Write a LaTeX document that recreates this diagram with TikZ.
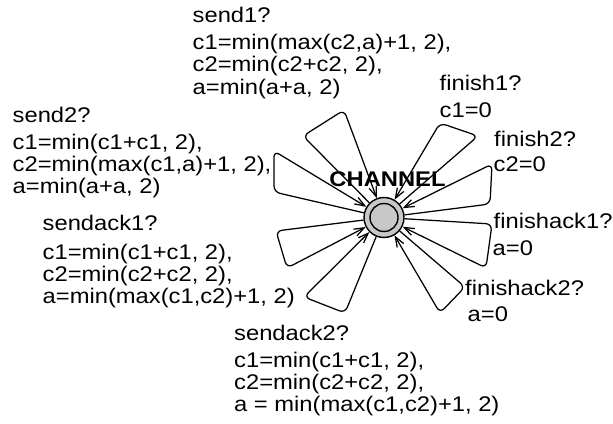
\documentclass[tikz,border=0pt]{standalone}
\usepackage{fontspec}
\setmainfont{Liberation Sans}[FakeStretch=1.12]
\usetikzlibrary{arrows.meta}
\definecolor{stategray}{RGB}{200,200,200}
\newcommand\txtlines[1]{\begin{tabular}[t]{@{}l@{}}#1\end{tabular}}

\begin{document}
\begin{tikzpicture}[x=1pt,y=-1pt,
  lbl/.style={anchor=base west, inner sep=0pt, font=\fontsize{21.2}{22.3}\selectfont},
  loopedge/.style={draw, line width=1.25pt, rounded corners=6pt,
    -{Straight Barb[length=10pt,width=7.5pt]}},
  ring/.style={circle, draw, line width=1.4pt, inner sep=0pt},
]
\useasboundingbox (0,0) rectangle (613,423);

% location name
\node[anchor=base, inner sep=0pt, font=\fontsize{21.2}{22}\selectfont\bfseries]
  (chname) at (387.5,186.7) {CHANNEL};

% initial location (double circle)
\node[ring, fill=stategray, minimum size=40pt] (st) at (384,217.5) {};
\node[ring, minimum size=28pt] (stin) at (st.center) {};

% nails of the self loops: o = outgoing side, i = incoming side
\coordinate (s1o) at (303,136);  \coordinate (s1i) at (344,110);
\coordinate (f1o) at (478,136);  \coordinate (f1i) at (440,123);
\coordinate (f2o) at (490,204);  \coordinate (f2i) at (492,164);
\coordinate (fa1o) at (492,224); \coordinate (fa1i) at (486,268);
\coordinate (fa2o) at (465,287); \coordinate (fa2i) at (440,313);
\coordinate (sa2o) at (345,313); \coordinate (sa2i) at (304,297);
\coordinate (sa1o) at (276,231); \coordinate (sa1i) at (287,268);
\coordinate (s2o) at (274,192);  \coordinate (s2i) at (274,151);

% self loops
\path[loopedge] (st) -- (s1o) -- (s1i) -- (st);
\path[loopedge] (st) -- (f1o) -- (f1i) -- (st);
\path[loopedge] (st) -- (f2o) -- (f2i) -- (st);
\path[loopedge] (st) -- (fa1o) -- (fa1i) -- (st);
\path[loopedge] (st) -- (fa2o) -- (fa2i) -- (st);
\path[loopedge] (st) -- (sa2o) -- (sa2i) -- (st);
\path[loopedge] (st) -- (sa1o) -- (sa1i) -- (st);
\path[loopedge] (st) -- (s2o) -- (s2i) -- (st);

% synchronisations and updates
\node[lbl] (s1sync) at (192.5,22) {send1?};
\node[lbl] (s1upd) at (192.5,49.5) {\txtlines{c1=min(max(c2,a)+1, 2),\\c2=min(c2+c2, 2),\\a=min(a+a, 2)}};

\node[lbl] (s2sync) at (12.5,122) {send2?};
\node[lbl] (s2upd) at (12.5,149.3) {\txtlines{c1=min(c1+c1, 2),\\c2=min(max(c1,a)+1, 2),\\a=min(a+a, 2)}};

\node[lbl] (sa1sync) at (42.5,230) {sendack1?};
\node[lbl] (sa1upd) at (42.5,259) {\txtlines{c1=min(c1+c1, 2),\\c2=min(c2+c2, 2),\\a=min(max(c1,c2)+1, 2)}};

\node[lbl] (sa2sync) at (234,340.5) {sendack2?};
\node[lbl] (sa2upd) at (234,367) {\txtlines{c1=min(c1+c1, 2),\\c2=min(c2+c2, 2),\\a = min(max(c1,c2)+1, 2)}};

\node[lbl] (f1sync) at (439.5,90.7) {finish1?};
\node[lbl] (f1upd) at (439.5,117.7) {c1=0};

\node[lbl] (f2sync) at (494,146) {finish2?};
\node[lbl] (f2upd) at (493.5,171.7) {c2=0};

\node[lbl] (fa1sync) at (493.5,228.3) {finishack1?};
\node[lbl] (fa1upd) at (492.5,255) {a=0};

\node[lbl] (fa2sync) at (465,295) {finishack2?};
\node[lbl] (fa2upd) at (467.5,321.7) {a=0};
\end{tikzpicture}
\end{document}
